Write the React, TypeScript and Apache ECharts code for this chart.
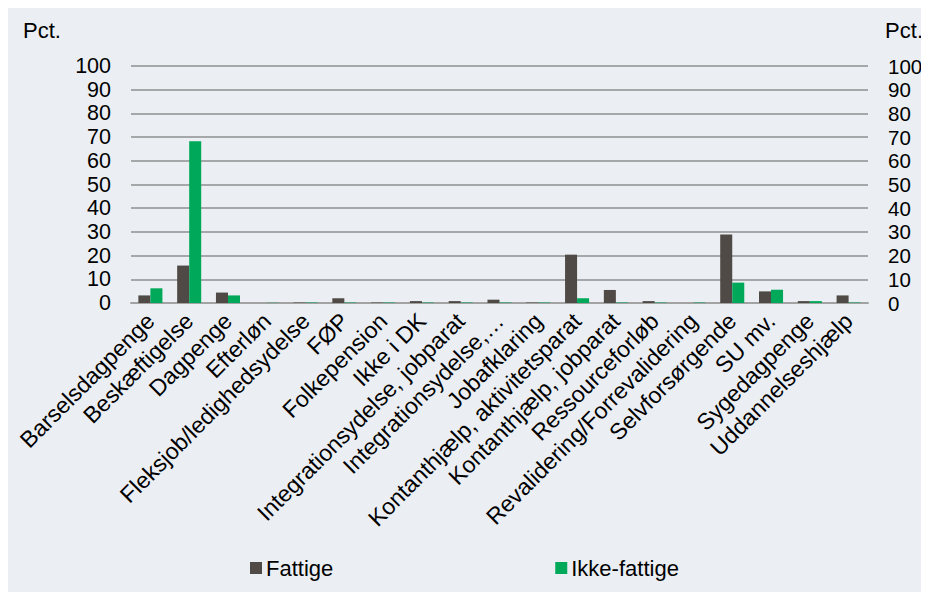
import React, { useEffect, useRef } from "react";
import * as echarts from "echarts";

const categories = [
  "Barselsdagpenge",
  "Beskæftigelse",
  "Dagpenge",
  "Efterløn",
  "Fleksjob/ledighedsydelse",
  "FØP",
  "Folkepension",
  "Ikke i DK",
  "Integrationsydelse, jobparat",
  "Integrationsydelse,…",
  "Jobafklaring",
  "Kontanthjælp, aktivitetsparat",
  "Kontanthjælp, jobparat",
  "Ressourceforløb",
  "Revalidering/Forrevalidering",
  "Selvforsørgende",
  "SU mv.",
  "Sygedagpenge",
  "Uddannelseshjælp",
];

const fattige = [3.2, 15.8, 4.4, 0, 0.2, 2.0, 0.2, 0.8, 0.8, 1.4, 0.2, 20.4, 5.5, 0.8, 0, 28.9, 4.9, 0.8, 3.2];
const ikkeFattige = [6.2, 68.3, 3.2, 0.1, 0.2, 0.2, 0.2, 0.2, 0.2, 0.2, 0.2, 2.0, 0.2, 0.2, 0.2, 8.6, 5.6, 0.8, 0.2];

const yTicks = { min: 0, max: 100, interval: 10 };

const FONT = "'Liberation Sans', Arial, Helvetica, sans-serif";

export default function App() {
  const ref = useRef<HTMLDivElement>(null);
  useEffect(() => {
    if (!ref.current) return;
    const chart = echarts.init(ref.current, undefined, { renderer: "svg" });
    const yAxisBase = {
      type: "value" as const,
      min: yTicks.min,
      max: yTicks.max,
      interval: yTicks.interval,
      axisLine: { show: false },
      axisTick: { show: false },
    };
    chart.setOption({
      animation: false,
      backgroundColor: "#ebeff3",
      textStyle: { fontFamily: FONT },
      grid: { left: 123, right: 61, top: 58, bottom: 289, containLabel: false },
      legend: {
        bottom: 13,
        left: 242,
        padding: 0,
        itemWidth: 12,
        itemHeight: 12,
        itemGap: 222,
        icon: "rect",
        textStyle: { color: "#000", fontSize: 22, fontFamily: FONT, padding: [0, 0, 0, -1] },
        data: ["Fattige", "Ikke-fattige"],
      },
      graphic: [
        { type: "text", left: 15, top: 11, style: { text: "Pct.", fontSize: 22, fontFamily: FONT, fill: "#000" } },
        { type: "text", right: 6, top: 11, style: { text: "Pct.", fontSize: 22, fontFamily: FONT, fill: "#000" } },
      ],
      xAxis: {
        type: "category",
        data: categories,
        axisLine: { show: true, lineStyle: { color: "#a3a3a3", width: 2 } },
        axisTick: { show: false },
        axisLabel: {
          interval: 0,
          rotate: 45,
          color: "#000",
          fontSize: 23,
          fontFamily: FONT,
          margin: 14,
        },
      },
      yAxis: [
        {
          ...yAxisBase,
          position: "left",
          axisLabel: { color: "#000", fontSize: 21.5, fontFamily: FONT, margin: 20 },
          splitLine: { show: true, lineStyle: { color: "#8f8f8f", width: 1.5 } },
        },
        {
          ...yAxisBase,
          position: "right",
          axisLabel: { color: "#000", fontSize: 20.5, fontFamily: FONT, margin: 20 },
          splitLine: { show: false },
        },
      ],
      series: [
        {
          name: "Fattige",
          type: "bar",
          data: fattige,
          barGap: "0%",
          barCategoryGap: "38%",
          itemStyle: { color: "#4f4a45" },
        },
        {
          name: "Ikke-fattige",
          type: "bar",
          data: ikkeFattige,
          itemStyle: { color: "#00a859" },
        },
      ],
    });
    return () => chart.dispose();
  }, []);
  return <div ref={ref} style={{ width: 921, height: 584 }} />;
}
